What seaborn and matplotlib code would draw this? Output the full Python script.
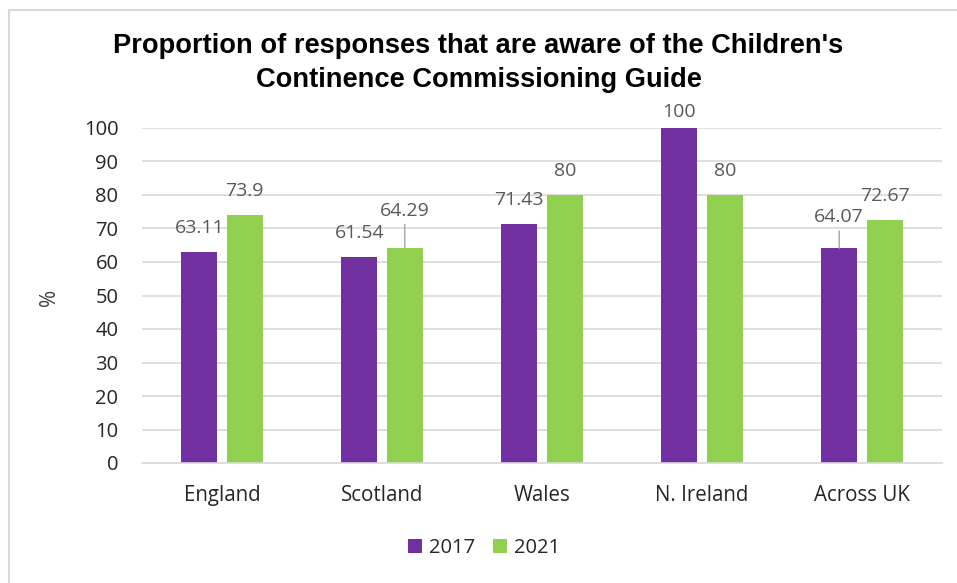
import matplotlib
matplotlib.use("Agg")
import matplotlib.pyplot as plt
from matplotlib.lines import Line2D
from matplotlib.patches import Patch
import seaborn as sns
import pandas as pd

# Survey results by nation
regions = ["England", "Scotland", "Wales", "N. Ireland", "Across UK"]
years = ["2017", "2021"]
values_2017 = [63.11, 61.54, 71.43, 100, 64.07]
values_2021 = [73.9, 64.29, 80, 80, 72.67]
y_ticks = [0, 10, 20, 30, 40, 50, 60, 70, 80, 90, 100]

title = "Proportion of responses that are aware of the Children's\nContinence Commissioning Guide"
y_label = "%"

palette = {"2017": "#7030A0", "2021": "#92D050"}

df = pd.DataFrame({
    "Region": regions * 2,
    "Year": [years[0]] * len(regions) + [years[1]] * len(regions),
    "Value": values_2017 + values_2021,
})

sns.set_theme(style="white")
plt.rcParams["font.family"] = ["Open Sans", "DejaVu Sans"]

fig = plt.figure(figsize=(9.57, 5.83), dpi=100)
ax = fig.add_axes([142 / 957, 1 - 463 / 583, 800 / 957, 335 / 583])

sns.barplot(data=df, x="Region", y="Value", hue="Year", order=regions,
            hue_order=years, palette=palette, width=0.569, gap=0.21,
            saturation=1, ax=ax, legend=False, errorbar=None, linewidth=0)

ax.set_xlim(-0.5, len(regions) - 0.5)
ax.set_ylim(0, 100)
ax.set_yticks(y_ticks)
ax.set_yticklabels([str(t) for t in y_ticks])
ax.yaxis.grid(True, color="#D9D9D9", linewidth=1.2)
ax.set_axisbelow(True)
for side in ["left", "right", "top"]:
    ax.spines[side].set_visible(False)
ax.spines["bottom"].set_color("#D9D9D9")
ax.spines["bottom"].set_linewidth(1.2)
ax.tick_params(axis="y", length=0, pad=17, labelsize=14.5, labelcolor="#262626")
ax.tick_params(axis="x", length=0, pad=16, labelsize=14.8, labelcolor="#262626")
ax.set_xlabel("")
ax.set_ylabel(y_label, fontsize=15, color="#404040")
ax.yaxis.set_label_coords((60 - 142) / 800, (463 - 297) / 335)

# value labels above each bar; a few sit higher and get a leader line
raised = {("Scotland", "2021"): 37, ("Across UK", "2017"): 31, ("N. Ireland", "2017"): 16}
leaders = {("Scotland", "2021"), ("Across UK", "2017")}
for year, container in zip(years, ax.containers):
    vals = values_2017 if year == "2017" else values_2021
    for region, bar, v in zip(regions, container, vals):
        cx = bar.get_x() + bar.get_width() / 2
        off = raised.get((region, year), 24)
        ax.annotate(f"{v:g}", xy=(cx, v), xytext=(0, off),
                    textcoords="offset pixels", ha="center", va="center",
                    fontsize=14, color="#595959", annotation_clip=False,
                    arrowprops=dict(arrowstyle="-", color="#A6A6A6", lw=1,
                                    shrinkA=1, shrinkB=0)
                    if (region, year) in leaders else None)

fig.text(0.5, 1 - 63 / 583, title, ha="center", va="center", fontsize=19.6,
         fontweight="bold", family="Liberation Sans", color="black", linespacing=1.4)

handles = [Patch(facecolor=palette[y], edgecolor="none", label=y) for y in years]
fig.legend(handles=handles, loc="center", bbox_to_anchor=(484 / 957, 1 - 548 / 583),
           ncol=2, frameon=False, fontsize=14.5, handlelength=0.7, handleheight=0.7,
           handletextpad=0.35, columnspacing=0.9, labelcolor="#262626")

# chart frame
fig.add_artist(Line2D([9 / 957, 9 / 957], [0, 1 - 10 / 583], color="#D9D9D9", lw=1.5))
fig.add_artist(Line2D([9 / 957, 1], [1 - 10 / 583, 1 - 10 / 583], color="#D9D9D9", lw=1.5))

fig.savefig("out.png", dpi=100, facecolor="white")
